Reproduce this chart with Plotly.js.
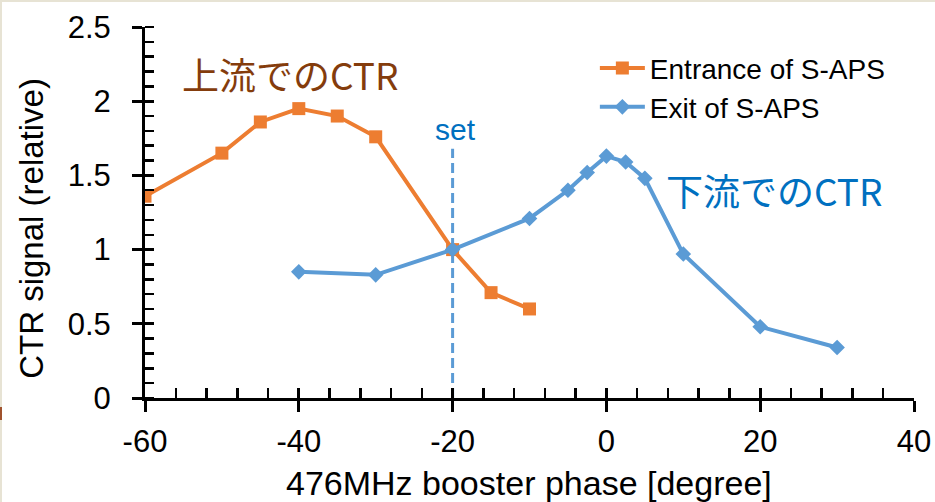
<!DOCTYPE html>
<html><head><meta charset="utf-8">
<script src="https://cdn.plot.ly/plotly-3.0.1.min.js"></script>
<style>
html,body{margin:0;padding:0;background:#fff;}
#wrap{position:absolute;left:0;top:0;width:933px;height:500px;border-left:2px solid #e7e3d4;border-top:2px solid #e7e3d4;}
#plot{width:933px;height:500px;}
#mark{position:absolute;left:0;top:407px;width:2px;height:13px;background:#a0522d;}
</style></head><body>
<div id="wrap"><div id="plot"></div></div><div id="mark"></div>
<script>
// Data
const entrancePhase = [-60, -50, -45, -40, -35, -30, -20, -15, -10];
const entranceSignal = [1.36, 1.65, 1.86, 1.95, 1.90, 1.76, 1.00, 0.71, 0.60];
const exitPhase = [-40, -30, -20, -10, -5, -2.5, 0, 2.5, 5, 10, 20, 30];
const exitSignal = [0.85, 0.83, 1.00, 1.21, 1.40, 1.52, 1.63, 1.59, 1.48, 0.97, 0.48, 0.34];
const setPhase = [-20, -20];
const setSignal = [0, 1.68];
const seriesNames = ["Entrance of S-APS", "Exit of S-APS"];
const xTicks = [-60, -40, -20, 0, 20, 40];
const xTickText = ["-60", "-40", "-20", "0", "20", "40"];
const yTicks = [0, 0.5, 1, 1.5, 2, 2.5];
const yTickText = ["0", "0.5", "1", "1.5", "2", "2.5"];

const orange = "#ed7d31", blue = "#5b9bd5";
const font = "Liberation Sans, Arial, sans-serif";
const jp = "Noto Sans CJK JP, sans-serif";

const traces = [
  {x: setPhase, y: setSignal, mode: "lines", line: {color: blue, width: 3, dash: "10px,5px"}, showlegend: false, hoverinfo: "skip"},
  {x: entrancePhase, y: entranceSignal, name: seriesNames[0], mode: "lines+markers",
   line: {color: orange, width: 4}, marker: {symbol: "square", size: 13, color: orange}, legend: "legend"},
  {x: exitPhase, y: exitSignal, name: seriesNames[1], mode: "lines+markers",
   line: {color: blue, width: 4}, marker: {symbol: "diamond", size: 12, color: blue}, legend: "legend2"},
  {x: [0], y: [0], xaxis: "x2", yaxis: "y2", mode: "markers", marker: {opacity: 0}, showlegend: false, hoverinfo: "skip"}
];

const layout = {
  width: 933, height: 500,
  margin: {l: 143, r: 21, t: 25, b: 104},
  paper_bgcolor: "#fff", plot_bgcolor: "#fff",
  font: {family: font, color: "#000"},
  xaxis: {
    range: [-60, 40], tickvals: xTicks, ticktext: xTickText, ticks: "outside", ticklen: 11, tickwidth: 3, tickcolor: "#000",
    showline: true, linecolor: "#000", linewidth: 3, showgrid: false, zeroline: false,
    tickfont: {size: 31, family: font}, ticklabelstandoff: 3,
    minor: {tickvals: [-56,-52,-48,-44,-36,-32,-28,-24,-16,-12,-8,-4,4,8,12,16,24,28,32,36], ticks: "inside", ticklen: 10, tickwidth: 2.5, tickcolor: "#000"}
  },
  yaxis: {
    range: [0, 2.5], tickvals: yTicks, ticktext: yTickText,
    ticks: "outside", ticklen: 10, tickwidth: 3, tickcolor: "#000",
    showline: true, linecolor: "#000", linewidth: 3, showgrid: false, zeroline: false,
    tickfont: {size: 31, family: font}, ticklabelstandoff: 15,
    minor: {dtick: 0.1, ticks: "inside", ticklen: 9, tickwidth: 2.5, tickcolor: "#000"}
  },
  xaxis2: {overlaying: "x", matches: "x", range: [-60, 40], tickvals: xTicks, ticks: "inside", ticklen: 10, tickwidth: 3, tickcolor: "#000", showticklabels: false, showgrid: false, zeroline: false, anchor: "y2"},
  yaxis2: {overlaying: "y", range: [0, 2.5], tickvals: yTicks, ticks: "inside", ticklen: 9, tickwidth: 3, tickcolor: "#000", showticklabels: false, showgrid: false, zeroline: false, anchor: "x2"},
  legend: {x: 0.585, y: 0.889, xanchor: "left", yanchor: "middle", itemwidth: 45, bgcolor: "rgba(0,0,0,0)", font: {size: 28, family: font}},
  legend2: {x: 0.585, y: 0.784, xanchor: "left", yanchor: "middle", itemwidth: 45, bgcolor: "rgba(0,0,0,0)", font: {size: 28, family: font}},
  annotations: [
    {x: -41.1, y: 2.18, xref: "x", yref: "y", text: "上流でのCTR", showarrow: false, font: {size: 37, color: "#843c0c", family: jp}},
    {x: 21.9, y: 1.40, xref: "x", yref: "y", text: "下流でのCTR", showarrow: false, font: {size: 37, color: "#0070c0", family: jp}},
    {x: -19.6, y: 1.81, xref: "x", yref: "y", text: "set", showarrow: false, font: {size: 30, color: "#0070c0", family: font}},
    {x: 0.4993, y: -0.229, xref: "paper", yref: "paper", xanchor: "center", yanchor: "middle", text: "476MHz booster phase [degree]", showarrow: false, font: {size: 34, family: font, color: "#000"}},
    {x: -0.1486, y: 0.458, xref: "paper", yref: "paper", xanchor: "center", yanchor: "middle", text: "CTR signal (relative)", textangle: -90, showarrow: false, font: {size: 33, family: font, color: "#000"}}
  ]
};

Plotly.newPlot("plot", traces, layout, {displayModeBar: false, staticPlot: true});
</script>
</body></html>
